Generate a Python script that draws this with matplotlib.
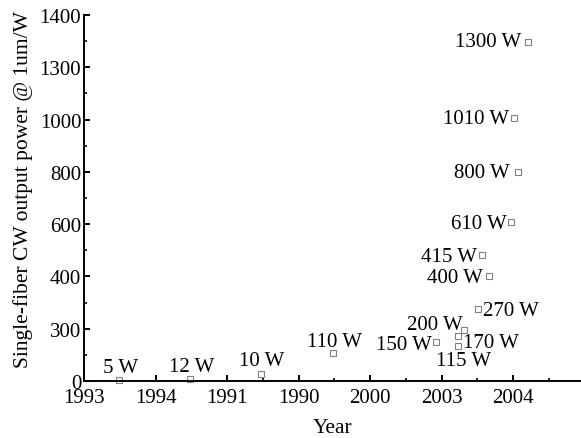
import matplotlib
matplotlib.use("Agg")
import matplotlib.pyplot as plt
from matplotlib.ticker import MultipleLocator

plt.rcParams['font.family'] = ['Liberation Serif', 'DejaVu Serif']

# data (x in tick-slot units, y in W)
labels = ["5 W", "12 W", "10 W", "110 W", "150 W", "200 W", "170 W", "115 W",
          "270 W", "400 W", "415 W", "610 W", "800 W", "1010 W", "1300 W"]
x_pos = [0.49, 1.48, 2.48, 3.48, 4.92, 5.31, 5.23, 5.23,
         5.51, 5.66, 5.57, 5.97, 6.07, 6.01, 6.21]
power = [3, 8, 27, 107, 149, 195, 172, 134,
         275, 402, 482, 608, 799, 1006, 1297]

x_tick_labels = ["1993", "1994", "1991", "1990", "2000", "2003", "2004"]
y_tick_labels = ["0", "300", "400", "600", "800", "1000", "1300", "1400"]

# label offsets in pixels (dx, dy, ha)
offsets = [(2, 13, 'center'), (2, 12, 'center'), (0, 13, 'center'),
           (2, 12, 'center'), (-4, -2, 'right'), (-1, 6, 'right'),
           (5, -6, 'left'), (6, -15, 'center'), (5, -1, 'left'),
           (-6, -2, 'right'), (-5, -2, 'right'), (-4, -1, 'right'),
           (-8, 0, 'right'), (-5, 0, 'right'), (-7, 0, 'right')]

fig = plt.figure(figsize=(5.81, 4.39), dpi=100)
ax = fig.add_axes([84 / 581, 57 / 439, 497 / 581, 366 / 439])

ax.plot(x_pos, power, linestyle='none', marker='s', markersize=4.5,
        markerfacecolor='white', markeredgecolor='#808080', markeredgewidth=0.8,
        clip_on=False)

px = 72 / 100
for lab, x, y, (dx, dy, ha) in zip(labels, x_pos, power, offsets):
    ax.annotate(lab, (x, y), xytext=(dx * px, dy * px), textcoords='offset points',
                ha=ha, va='center', fontsize=15)

ax.set_xlim(0, 497 / 71.5)
ax.set_ylim(0, 1400)
ax.set_xticks(range(len(x_tick_labels)))
ax.set_xticklabels(x_tick_labels)
ax.set_yticks(range(0, 1401, 200))
ax.set_yticklabels(y_tick_labels)
ax.xaxis.set_minor_locator(MultipleLocator(0.5))
ax.yaxis.set_minor_locator(MultipleLocator(100))

ax.spines['top'].set_visible(False)
ax.spines['right'].set_visible(False)
for s in ['left', 'bottom']:
    ax.spines[s].set_linewidth(1.4)
ax.tick_params(which='major', direction='in', length=4.5, width=1.4, labelsize=15, pad=2)
ax.tick_params(axis='x', which='major', pad=5)
ax.tick_params(which='minor', direction='in', length=2.5, width=1.2)

ax.set_xlabel("Year", fontsize=15.5, labelpad=8)
ax.set_ylabel("Single-fiber CW output power @ 1um/W", fontsize=15.5)
ax.yaxis.set_label_coords(-0.103, 0.527)

fig.savefig("out.png", dpi=100)
